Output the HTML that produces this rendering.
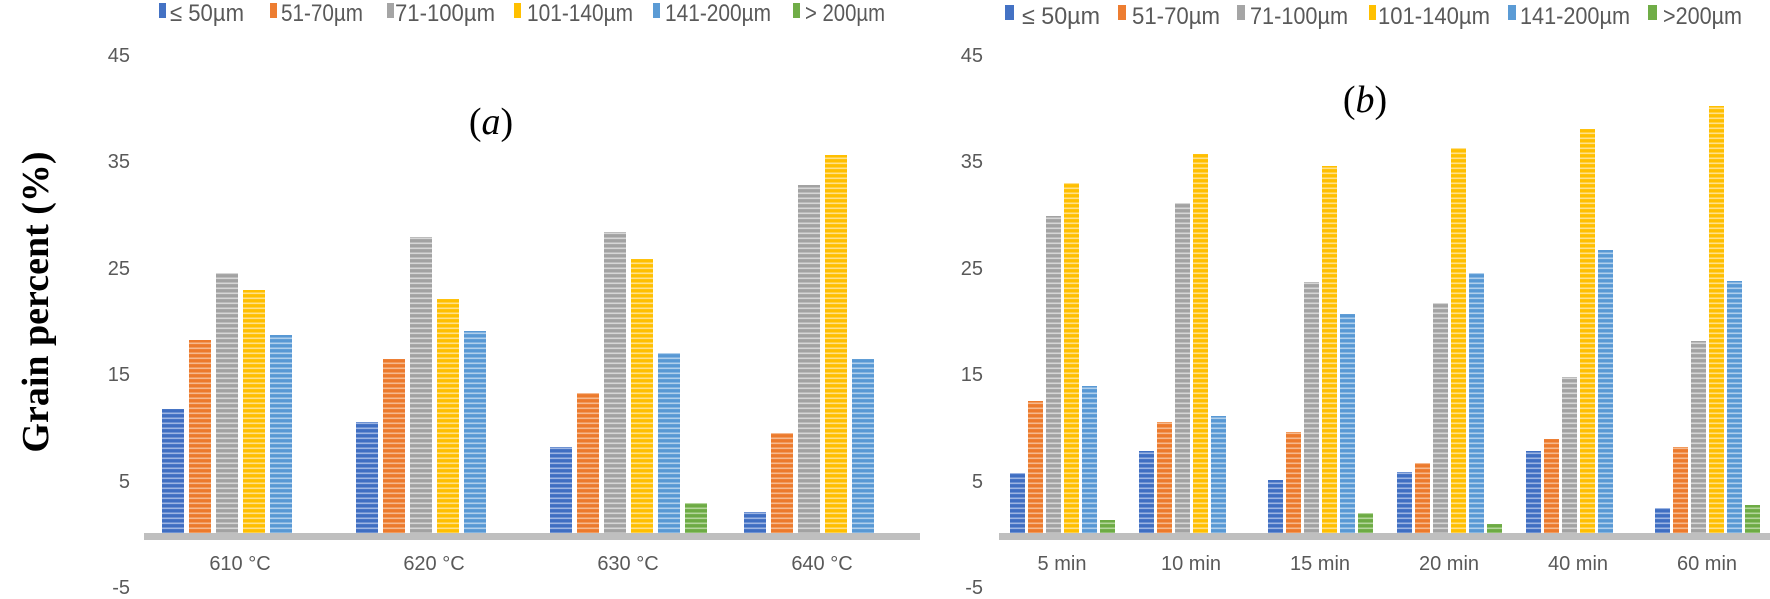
<!DOCTYPE html>
<html><head><meta charset="utf-8"><style>
html,body{margin:0;padding:0;background:#fff;}
svg{display:block;}
.t{font-family:"Liberation Sans",sans-serif;fill:#595959;font-size:20px;}
.lg{font-family:"Liberation Sans",sans-serif;fill:#595959;font-size:24px;}
</style></head><body>
<svg width="1770" height="599" viewBox="0 0 1770 599" xmlns="http://www.w3.org/2000/svg">
<defs>
<pattern id="pB" width="8" height="5" patternUnits="userSpaceOnUse"><rect width="8" height="5" fill="#3f6ec2"/><rect y="2.5" width="8" height="1.6" fill="#9db5e3"/></pattern>
<pattern id="pO" width="8" height="5" patternUnits="userSpaceOnUse"><rect width="8" height="5" fill="#ec7a2c"/><rect y="2.5" width="8" height="1.6" fill="#f6b98e"/></pattern>
<pattern id="pG" width="8" height="5" patternUnits="userSpaceOnUse"><rect width="8" height="5" fill="#a2a2a2"/><rect y="2.5" width="8" height="1.6" fill="#d6d6d6"/></pattern>
<pattern id="pY" width="8" height="5" patternUnits="userSpaceOnUse"><rect width="8" height="5" fill="#ffbf00"/><rect y="2.5" width="8" height="1.6" fill="#ffe08a"/></pattern>
<pattern id="pL" width="8" height="5" patternUnits="userSpaceOnUse"><rect width="8" height="5" fill="#5898d4"/><rect y="2.5" width="8" height="1.6" fill="#b0cfec"/></pattern>
<pattern id="pN" width="8" height="5" patternUnits="userSpaceOnUse"><rect width="8" height="5" fill="#6dab44"/><rect y="2.5" width="8" height="1.6" fill="#b4d69c"/></pattern>
</defs>

<!-- Legend a -->
<rect x="159" y="3" width="7" height="15" fill="#4472c4"/><text class="lg" x="170" y="21" textLength="74" lengthAdjust="spacingAndGlyphs">≤ 50µm</text>
<rect x="270" y="3" width="7" height="15" fill="#ed7d31"/><text class="lg" x="281" y="21" textLength="82" lengthAdjust="spacingAndGlyphs">51-70µm</text>
<rect x="387" y="3" width="7" height="15" fill="#a5a5a5"/><text class="lg" x="395" y="21" textLength="100" lengthAdjust="spacingAndGlyphs">71-100µm</text>
<rect x="514" y="3" width="7" height="15" fill="#ffc000"/><text class="lg" x="527" y="21" textLength="106" lengthAdjust="spacingAndGlyphs">101-140µm</text>
<rect x="653" y="3" width="7" height="15" fill="#5b9bd5"/><text class="lg" x="665" y="21" textLength="106" lengthAdjust="spacingAndGlyphs">141-200µm</text>
<rect x="793" y="3" width="7" height="15" fill="#70ad47"/><text class="lg" x="805" y="21" textLength="80" lengthAdjust="spacingAndGlyphs">&gt; 200µm</text>

<!-- Legend b -->
<rect x="1005" y="5" width="9" height="15" fill="#4472c4"/><text class="lg" x="1022" y="24" textLength="78" lengthAdjust="spacingAndGlyphs">≤ 50µm</text>
<rect x="1118" y="5" width="8" height="15" fill="#ed7d31"/><text class="lg" x="1132" y="24" textLength="88" lengthAdjust="spacingAndGlyphs">51-70µm</text>
<rect x="1237" y="5" width="8" height="15" fill="#a5a5a5"/><text class="lg" x="1250" y="24" textLength="98" lengthAdjust="spacingAndGlyphs">71-100µm</text>
<rect x="1369" y="5" width="7" height="15" fill="#ffc000"/><text class="lg" x="1378" y="24" textLength="112" lengthAdjust="spacingAndGlyphs">101-140µm</text>
<rect x="1508" y="5" width="8" height="15" fill="#5b9bd5"/><text class="lg" x="1520" y="24" textLength="110" lengthAdjust="spacingAndGlyphs">141-200µm</text>
<rect x="1648" y="5" width="9" height="15" fill="#70ad47"/><text class="lg" x="1663" y="24" textLength="79" lengthAdjust="spacingAndGlyphs">&gt;200µm</text>

<!-- Y title -->
<text transform="translate(48,302) rotate(-90)" text-anchor="middle" font-family="'Liberation Serif',serif" font-weight="bold" font-size="38" fill="#000">Grain percent (%)</text>

<!-- Titles -->
<text x="491" y="134" text-anchor="middle" font-family="'Liberation Serif',serif" font-size="38" fill="#000">(<tspan font-style="italic">a</tspan>)</text>
<text x="1365" y="112" text-anchor="middle" font-family="'Liberation Serif',serif" font-size="38" fill="#000">(<tspan font-style="italic">b</tspan>)</text>

<!-- Y tick labels -->
<g class="t" text-anchor="end">
<text x="130" y="62">45</text><text x="130" y="168">35</text><text x="130" y="275">25</text><text x="130" y="381">15</text><text x="130" y="488">5</text><text x="130" y="594">-5</text>
</g>
<g class="t" text-anchor="end">
<text x="983" y="62">45</text><text x="983" y="168">35</text><text x="983" y="275">25</text><text x="983" y="381">15</text><text x="983" y="488">5</text><text x="983" y="594">-5</text>
</g>

<!-- Bars a -->
<g>
<rect x="162" y="409" width="22" height="125" fill="url(#pB)"/>
<rect x="189" y="340" width="22" height="194" fill="url(#pO)"/>
<rect x="216" y="273" width="22" height="261" fill="url(#pG)"/>
<rect x="243" y="290" width="22" height="244" fill="url(#pY)"/>
<rect x="270" y="335" width="22" height="199" fill="url(#pL)"/>

<rect x="356" y="422" width="22" height="112" fill="url(#pB)"/>
<rect x="383" y="359" width="22" height="175" fill="url(#pO)"/>
<rect x="410" y="237" width="22" height="297" fill="url(#pG)"/>
<rect x="437" y="299" width="22" height="235" fill="url(#pY)"/>
<rect x="464" y="331" width="22" height="203" fill="url(#pL)"/>

<rect x="550" y="447" width="22" height="87" fill="url(#pB)"/>
<rect x="577" y="393" width="22" height="141" fill="url(#pO)"/>
<rect x="604" y="232" width="22" height="302" fill="url(#pG)"/>
<rect x="631" y="259" width="22" height="275" fill="url(#pY)"/>
<rect x="658" y="353" width="22" height="181" fill="url(#pL)"/>
<rect x="685" y="503" width="22" height="31" fill="url(#pN)"/>

<rect x="744" y="512" width="22" height="22" fill="url(#pB)"/>
<rect x="771" y="433" width="22" height="101" fill="url(#pO)"/>
<rect x="798" y="185" width="22" height="349" fill="url(#pG)"/>
<rect x="825" y="155" width="22" height="379" fill="url(#pY)"/>
<rect x="852" y="359" width="22" height="175" fill="url(#pL)"/>
</g>
<rect x="144" y="533" width="776" height="7" fill="#bfbfbf"/>
<g class="t" text-anchor="middle">
<text x="240" y="570">610 °C</text><text x="434" y="570">620 °C</text><text x="628" y="570">630 °C</text><text x="822" y="570">640 °C</text>
</g>

<!-- Bars b -->
<g>
<rect x="1010" y="473" width="15" height="61" fill="url(#pB)"/>
<rect x="1028" y="401" width="15" height="133" fill="url(#pO)"/>
<rect x="1046" y="216" width="15" height="318" fill="url(#pG)"/>
<rect x="1064" y="183" width="15" height="351" fill="url(#pY)"/>
<rect x="1082" y="386" width="15" height="148" fill="url(#pL)"/>
<rect x="1100" y="520" width="15" height="14" fill="url(#pN)"/>

<rect x="1139" y="451" width="15" height="83" fill="url(#pB)"/>
<rect x="1157" y="422" width="15" height="112" fill="url(#pO)"/>
<rect x="1175" y="203" width="15" height="331" fill="url(#pG)"/>
<rect x="1193" y="154" width="15" height="380" fill="url(#pY)"/>
<rect x="1211" y="416" width="15" height="118" fill="url(#pL)"/>

<rect x="1268" y="480" width="15" height="54" fill="url(#pB)"/>
<rect x="1286" y="432" width="15" height="102" fill="url(#pO)"/>
<rect x="1304" y="282" width="15" height="252" fill="url(#pG)"/>
<rect x="1322" y="166" width="15" height="368" fill="url(#pY)"/>
<rect x="1340" y="314" width="15" height="220" fill="url(#pL)"/>
<rect x="1358" y="513" width="15" height="21" fill="url(#pN)"/>

<rect x="1397" y="472" width="15" height="62" fill="url(#pB)"/>
<rect x="1415" y="463" width="15" height="71" fill="url(#pO)"/>
<rect x="1433" y="303" width="15" height="231" fill="url(#pG)"/>
<rect x="1451" y="148" width="15" height="386" fill="url(#pY)"/>
<rect x="1469" y="273" width="15" height="261" fill="url(#pL)"/>
<rect x="1487" y="524" width="15" height="10" fill="url(#pN)"/>

<rect x="1526" y="451" width="15" height="83" fill="url(#pB)"/>
<rect x="1544" y="439" width="15" height="95" fill="url(#pO)"/>
<rect x="1562" y="377" width="15" height="157" fill="url(#pG)"/>
<rect x="1580" y="129" width="15" height="405" fill="url(#pY)"/>
<rect x="1598" y="250" width="15" height="284" fill="url(#pL)"/>

<rect x="1655" y="508" width="15" height="26" fill="url(#pB)"/>
<rect x="1673" y="447" width="15" height="87" fill="url(#pO)"/>
<rect x="1691" y="341" width="15" height="193" fill="url(#pG)"/>
<rect x="1709" y="106" width="15" height="428" fill="url(#pY)"/>
<rect x="1727" y="281" width="15" height="253" fill="url(#pL)"/>
<rect x="1745" y="505" width="15" height="29" fill="url(#pN)"/>
</g>
<rect x="999" y="533" width="771" height="7" fill="#bfbfbf"/>
<g class="t" text-anchor="middle">
<text x="1062" y="570">5 min</text><text x="1191" y="570">10 min</text><text x="1320" y="570">15 min</text><text x="1449" y="570">20 min</text><text x="1578" y="570">40 min</text><text x="1707" y="570">60 min</text>
</g>
</svg>
</body></html>
